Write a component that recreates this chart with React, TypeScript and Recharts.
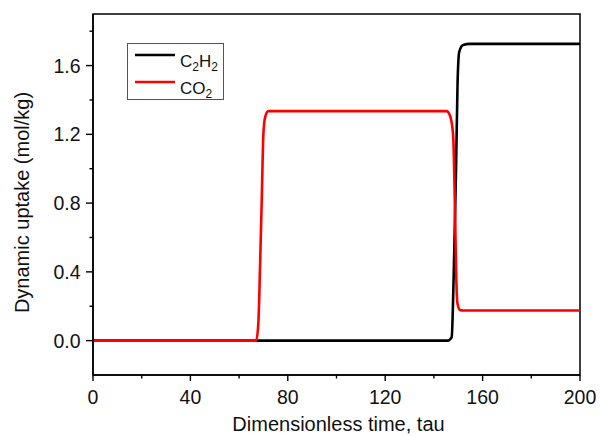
import React from 'react';
import { LineChart, Line, XAxis, YAxis, ReferenceArea, Legend } from 'recharts';

const c2h2Tau = [0, 145.8, 147.3, 148.2, 149.1, 149.7, 150.4, 152.0, 154.8, 200];
const c2h2Uptake = [0, 0, 0.02, 0.42, 1.0, 1.487, 1.68, 1.72, 1.726, 1.726];

const co2Tau = [0, 67.0, 67.9, 68.6, 69.3, 70.0, 70.7, 72.0, 145.2, 146.6, 147.9, 148.6, 149.1, 149.6, 150.7, 152.0, 200];
const co2Uptake = [0, 0, 0.1, 0.43, 0.82, 1.21, 1.3, 1.335, 1.335, 1.31, 1.195, 0.806, 0.418, 0.223, 0.178, 0.175, 0.175];

const seriesNames = ['C2H2', 'CO2'];
const seriesColors = ['#000000', '#ff0000'];

const xMajorTicks = [0, 40, 80, 120, 160, 200];
const xMinorTicks = [20, 60, 100, 140, 180];
const yMajorTicks = [0, 0.4, 0.8, 1.2, 1.6];
const yMinorTicks = [0.2, 0.6, 1.0, 1.4, 1.8];

const xDomain = [0, 200];
const yDomain = [-0.2, 1.9];

const xLabel = 'Dimensionless time, tau';
const yLabel = 'Dynamic uptake (mol/kg)';

const FONT = '"Liberation Sans", Arial, sans-serif';

const c2h2Data = c2h2Tau.map((t, i) => ({ tau: t, uptake: c2h2Uptake[i] }));
const co2Data = co2Tau.map((t, i) => ({ tau: t, uptake: co2Uptake[i] }));

const xTicks = [...xMajorTicks, ...xMinorTicks].sort((a, b) => a - b);
const yTicks = [...yMajorTicks, ...yMinorTicks].sort((a, b) => a - b);

const XTick = (props: any) => {
  const { x, y, payload } = props;
  const v = payload.value;
  const major = xMajorTicks.includes(v);
  return (
    <g>
      <line x1={x} x2={x} y1={y} y2={y + (major ? 6 : 3.5)} stroke="#000" strokeWidth={1.4} />
      {major && (
        <text x={x} y={y + 29} textAnchor="middle" fontSize={19.5} fill="#111" fontFamily={FONT}>
          {v}
        </text>
      )}
    </g>
  );
};

const YTick = (props: any) => {
  const { x, y, payload } = props;
  const v = payload.value;
  const major = yMajorTicks.includes(v);
  return (
    <g>
      <line x1={x} x2={x - (major ? 7 : 3.5)} y1={y} y2={y} stroke="#000" strokeWidth={1.4} />
      {major && (
        <text x={x - 12.5} y={y + 7} textAnchor="end" fontSize={19.5} fill="#111" fontFamily={FONT}>
          {v.toFixed(1)}
        </text>
      )}
    </g>
  );
};

const renderChem = (name: string) => {
  const parts: React.ReactNode[] = [];
  let sub = false;
  name.split('').forEach((ch, i) => {
    const isDigit = /[0-9]/.test(ch);
    if (isDigit) {
      parts.push(
        <tspan key={i} fontSize={12} dy={4}>
          {ch}
        </tspan>
      );
      sub = true;
    } else {
      parts.push(
        <tspan key={i} dy={sub ? -4 : 0}>
          {ch}
        </tspan>
      );
      sub = false;
    }
  });
  return parts;
};

const LegendContent = (props: any) => {
  const payload = props.payload || [];
  return (
    <svg width={97} height={57} style={{ display: 'block' }}>
      <rect x={0.5} y={0.5} width={96} height={56} fill="#fff" stroke="#555" strokeWidth={1} />
      {payload.map((entry: any, i: number) => {
        const ly = 12 + i * 27;
        return (
          <g key={i}>
            <line x1={8} x2={48} y1={ly} y2={ly} stroke={entry.color} strokeWidth={2.6} />
            <text x={53} y={ly + 12} fontSize={17} fill="#111" fontFamily={FONT}>
              {renderChem(entry.value)}
            </text>
          </g>
        );
      })}
    </svg>
  );
};

const YAxisLabel = (props: any) => {
  const vb = props.viewBox;
  const cx = vb.x + 28.5;
  const cy = vb.y + vb.height / 2 + 8;
  return (
    <text
      x={cx}
      y={cy}
      textAnchor="middle"
      fontSize={20}
      fill="#111"
      fontFamily={FONT}
      transform={`rotate(-90, ${cx}, ${cy})`}
    >
      {yLabel}
    </text>
  );
};

const XAxisLabel = (props: any) => {
  const vb = props.viewBox;
  return (
    <text x={vb.x + vb.width / 2 + 2} y={vb.y + 56} textAnchor="middle" fontSize={20} fill="#111" fontFamily={FONT}>
      {xLabel}
    </text>
  );
};

export default function App() {
  return (
    <div style={{ position: 'absolute', left: 0, top: 0, width: 601, height: 436, background: '#fff' }}>
      <LineChart width={601} height={436} margin={{ top: 14, right: 21, left: 0, bottom: 0 }}>
        <XAxis
          dataKey="tau"
          type="number"
          domain={xDomain}
          ticks={xTicks}
          interval={0}
          allowDataOverflow
          height={61}
          tickSize={0}
          tickMargin={0}
          tickLine={false}
          tick={<XTick />}
          axisLine={{ stroke: '#000', strokeWidth: 1.5 }}
          label={(p: any) => <XAxisLabel {...p} />}
        />
        <YAxis
          dataKey="uptake"
          type="number"
          domain={yDomain}
          ticks={yTicks}
          interval={0}
          allowDataOverflow
          width={93}
          tickSize={0}
          tickMargin={0}
          tickLine={false}
          tick={<YTick />}
          axisLine={{ stroke: '#000', strokeWidth: 1.5 }}
          label={(p: any) => <YAxisLabel {...p} />}
        />
        <ReferenceArea
          x1={xDomain[0]}
          x2={xDomain[1]}
          y1={yDomain[0]}
          y2={yDomain[1]}
          fill="none"
          fillOpacity={0}
          stroke="#000"
          strokeWidth={1.5}
        />
        <Line
          data={c2h2Data}
          dataKey="uptake"
          name={seriesNames[0]}
          type="monotone"
          stroke={seriesColors[0]}
          strokeWidth={2.6}
          dot={false}
          activeDot={false}
          isAnimationActive={false}
        />
        <Line
          data={co2Data}
          dataKey="uptake"
          name={seriesNames[1]}
          type="monotone"
          stroke={seriesColors[1]}
          strokeWidth={2.6}
          dot={false}
          activeDot={false}
          isAnimationActive={false}
        />
        <Legend
          layout="vertical"
          align="center"
          verticalAlign="middle"
          content={<LegendContent />}
          wrapperStyle={{ left: 127, top: 43, width: 97, height: 57 }}
        />
      </LineChart>
    </div>
  );
}
